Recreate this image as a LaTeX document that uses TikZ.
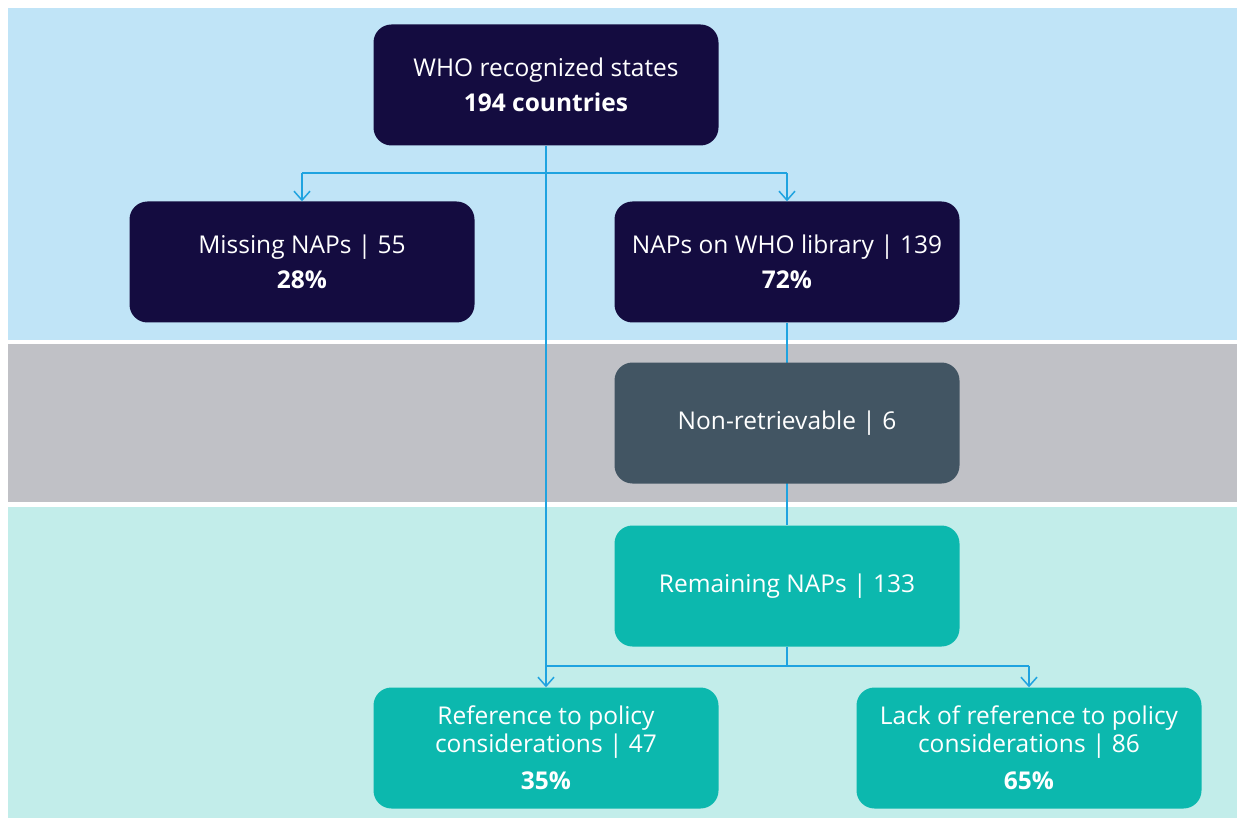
\documentclass[tikz,border=0pt]{standalone}
\usepackage{fontspec}
\setmainfont{Open Sans}
\usetikzlibrary{arrows.meta}
\definecolor{navy}{RGB}{20,12,64}
\definecolor{slate}{RGB}{66,85,99}
\definecolor{teal}{RGB}{12,184,174}
\definecolor{bandblue}{RGB}{192,228,247}
\definecolor{bandgray}{RGB}{192,193,198}
\definecolor{bandteal}{RGB}{194,237,234}
\definecolor{linkc}{RGB}{31,163,224}
\tikzset{
  box/.style={rounded corners=18pt, minimum width=345pt, minimum height=121pt, text=white, align=center, inner sep=0pt, font=\fontsize{24.5}{28}\selectfont},
  navybox/.style={box, fill=navy},
  slatebox/.style={box, fill=slate},
  tealbox/.style={box, fill=teal},
  link/.style={draw=linkc, line width=1.5pt},
  arr/.style={link, -{Straight Barb[length=9pt,width=16pt,line width=1.5pt]}}
}
\begin{document}
\begin{tikzpicture}[x=1pt,y=-1pt]
\useasboundingbox (0,0) rectangle (1237,818);
\fill[white] (0,0) rectangle (1237,818);
\fill[bandblue] (8,8) rectangle (1237,340);
\fill[bandgray] (8,344) rectangle (1237,502);
\fill[bandteal] (8,507) rectangle (1237,818);
\coordinate (j1l) at (302,173);
\coordinate (j1r) at (787,173);
\coordinate (j2) at (787,666);
\coordinate (j2l) at (546,666);
\coordinate (j2r) at (1029,666);
\node[navybox] (who) at (546,85) {WHO recognized states\\[7pt]\textbf{194 countries}};
\node[navybox] (miss) at (302,262) {Missing NAPs | 55\\[7pt]\textbf{28\%}};
\node[navybox] (lib) at (787,262) {NAPs on WHO library | 139\\[7pt]\textbf{72\%}};
\node[tealbox] (rem) at (787,586) {\raisebox{-3pt}{Remaining NAPs | 133}};
\node[tealbox] (ref) at (546,748) {Reference to policy\\considerations | 47\\[9pt]\textbf{35\%}};
\node[tealbox] (lack) at (1029,748) {Lack of reference to policy\\considerations | 86\\[9pt]\textbf{65\%}};
\draw[arr] (who.south) -- (ref.north);
\draw[link] (j1l) -- (j1r);
\draw[arr] (j1l) -- (miss.north);
\draw[arr] (j1r) -- (lib.north);
\draw[link] (lib.south) -- (rem.north);
\node[slatebox] (non) at (787,423) {\raisebox{-3pt}{Non-retrievable | 6}};
\draw[link] (rem.south) -- (j2);
\draw[link] (j2l) -- (j2r);
\draw[arr] (j2r) -- (lack.north);
\end{tikzpicture}
\end{document}
